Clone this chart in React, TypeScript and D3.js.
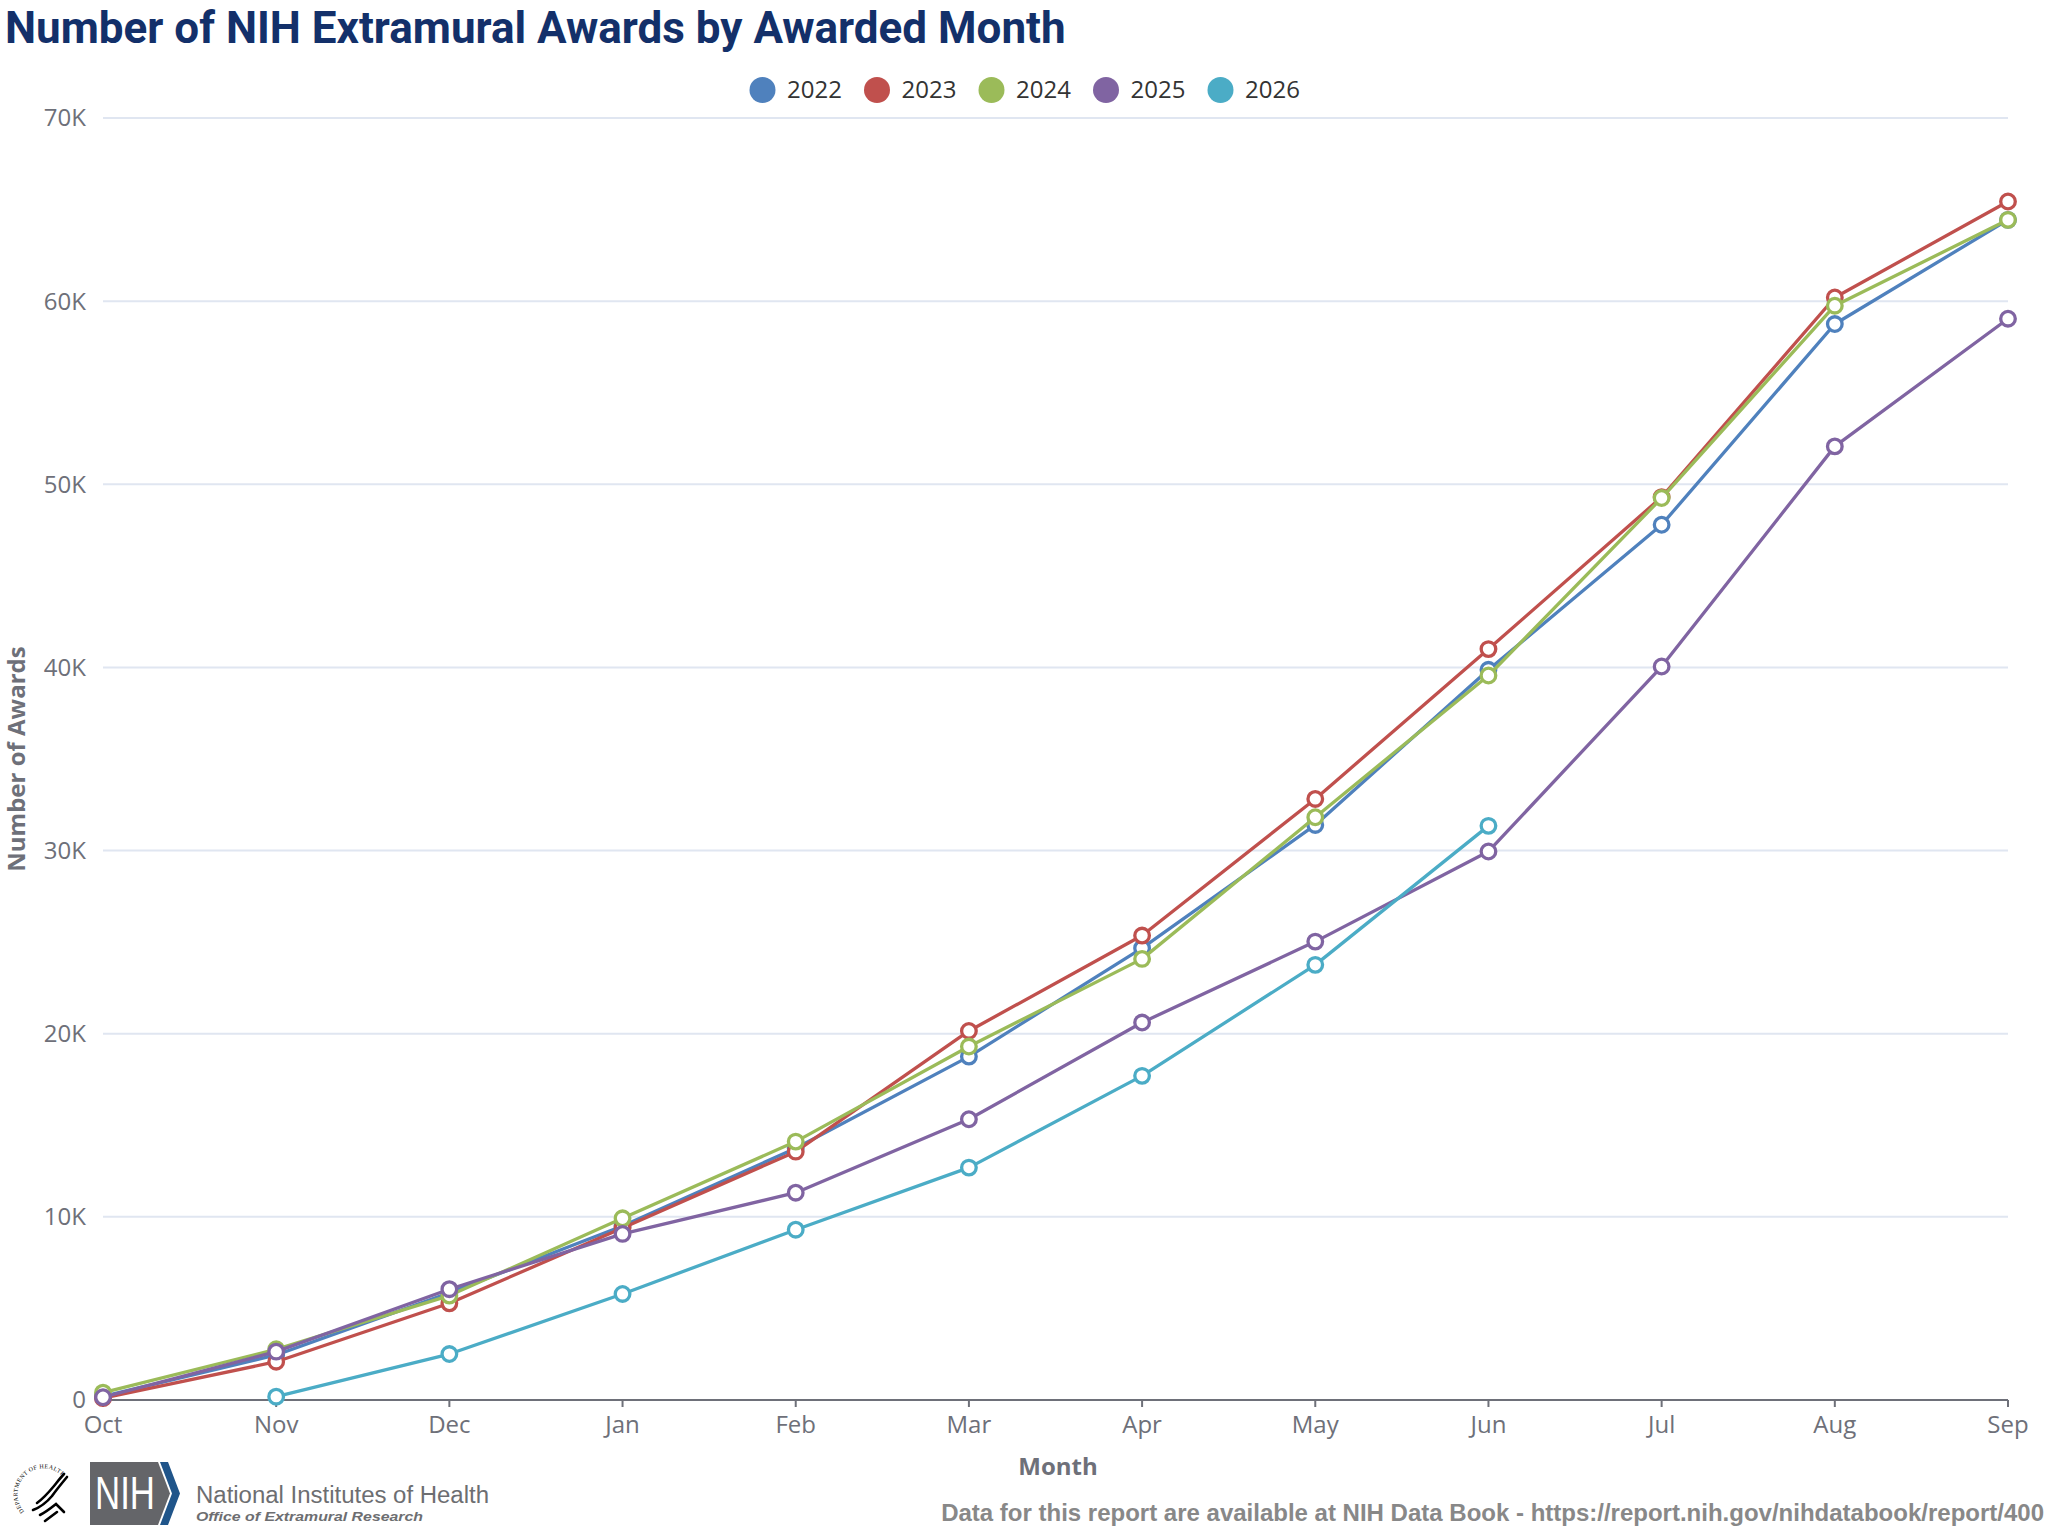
import React from 'react';
import * as d3 from 'd3';

// Awards counted cumulatively by awarded month, fiscal year Oct → Sep
const MONTHS = ['Oct', 'Nov', 'Dec', 'Jan', 'Feb', 'Mar', 'Apr', 'May', 'Jun', 'Jul', 'Aug', 'Sep'];
const YEARS = ['2022', '2023', '2024', '2025', '2026'];
const COLORS = ['#4F81BD', '#C0504D', '#9BBB59', '#8064A2', '#4BACC6'];

const AWARDS_2022 = [200, 2460, 5850, 9500, 13750, 18750, 24670, 31400, 39870, 47790, 58750, 64440];
const AWARDS_2023 = [100, 2090, 5280, 9390, 13560, 20150, 25360, 32820, 41000, 49300, 60200, 65440];
const AWARDS_2024 = [400, 2770, 5700, 9920, 14110, 19300, 24085, 31820, 39560, 49250, 59750, 64440];
const AWARDS_2025 = [150, 2640, 6050, 9070, 11320, 15330, 20610, 25030, 29950, 40050, 52070, 59040];
const AWARDS_2026 = [null, 180, 2510, 5790, 9300, 12690, 17700, 23760, 31350, null, null, null];

const Y_TICKS = [0, 10000, 20000, 30000, 40000, 50000, 60000, 70000];

const SERIES = [AWARDS_2022, AWARDS_2023, AWARDS_2024, AWARDS_2025, AWARDS_2026];

const width = 2048;
const height = 1536;
const plot = { left: 103, right: 2008, top: 118, bottom: 1400 };

const labelFont = '"Open Sans", "DejaVu Sans", sans-serif';
const axisGray = '#6E7079';

const fmtTick = (d: number) => (d === 0 ? '0' : `${d / 1000}K`);

export default function App() {
  const xScale = d3.scalePoint<string>().domain(MONTHS).range([plot.left, plot.right]).padding(0);
  const yScale = d3.scaleLinear().domain([0, 70000]).range([plot.bottom, plot.top]);

  const line = d3
    .line<number | null>()
    .defined((d) => d != null)
    .x((_, i) => xScale(MONTHS[i]) as number)
    .y((d) => yScale(d as number));

  // legend row layout
  const legendStart = 762.5;
  const legendStep = 114.5;
  const legendY = 90;

  // seal geometry
  const sealCx = 45;
  const sealCy = 1496;
  const sealR = 26;

  const yMid = (plot.top + plot.bottom) / 2;

  return (
    <svg
      width={width}
      height={height}
      viewBox={`0 0 ${width} ${height}`}
      style={{ position: 'absolute', left: 0, top: 0, background: '#fff' }}
    >
      {/* title */}
      <text
        x={5}
        y={43}
        fontFamily='Roboto, "Liberation Sans", sans-serif'
        fontWeight={700}
        fontSize={44}
        fill="#13306a"
      >
        Number of NIH Extramural Awards by Awarded Month
      </text>

      {/* legend */}
      <g fontFamily={labelFont} fontSize={24} fill="#333">
        {YEARS.map((yr, i) => (
          <g key={yr} transform={`translate(${legendStart + i * legendStep},${legendY})`}>
            <circle r={13} fill={COLORS[i]} />
            <text x={24.5} dy="0.35em">
              {yr}
            </text>
          </g>
        ))}
      </g>

      {/* grid lines */}
      <g>
        {Y_TICKS.filter((t) => t > 0).map((t) => (
          <line
            key={`g-${t}`}
            x1={plot.left}
            x2={plot.right}
            y1={yScale(t)}
            y2={yScale(t)}
            stroke="#E0E6F1"
            strokeWidth={2}
          />
        ))}
      </g>

      {/* y tick labels */}
      <g fontFamily={labelFont} fontSize={24} fill={axisGray}>
        {Y_TICKS.map((t) => (
          <text key={`yl-${t}`} x={86} y={yScale(t)} dy="0.35em" textAnchor="end">
            {fmtTick(t)}
          </text>
        ))}
      </g>

      {/* x axis */}
      <line x1={plot.left} x2={plot.right} y1={plot.bottom} y2={plot.bottom} stroke={axisGray} strokeWidth={2} />
      <g fontFamily={labelFont} fontSize={24} fill={axisGray}>
        {MONTHS.map((m) => (
          <g key={m}>
            <line
              x1={xScale(m)}
              x2={xScale(m)}
              y1={plot.bottom}
              y2={plot.bottom + 7}
              stroke={axisGray}
              strokeWidth={2}
            />
            <text x={xScale(m)} y={1433} textAnchor="middle">
              {m}
            </text>
          </g>
        ))}
      </g>

      {/* axis names */}
      <text
        x={1058}
        y={1475}
        textAnchor="middle"
        fontFamily={labelFont}
        fontWeight={700}
        fontSize={24}
        fill={axisGray}
      >
        Month
      </text>
      <text
        x={25}
        y={yMid}
        transform={`rotate(-90, 25, ${yMid})`}
        textAnchor="middle"
        fontFamily={labelFont}
        fontWeight={700}
        fontSize={24}
        fill={axisGray}
      >
        Number of Awards
      </text>

      {/* series */}
      {SERIES.map((values, si) => (
        <g key={YEARS[si]}>
          <path d={line(values) || ''} fill="none" stroke={COLORS[si]} strokeWidth={3.3} strokeLinejoin="round" />
          {values.map((v, i) =>
            v == null ? null : (
              <circle
                key={i}
                cx={xScale(MONTHS[i])}
                cy={yScale(v)}
                r={7.3}
                fill="#fff"
                stroke={COLORS[si]}
                strokeWidth={3.3}
              />
            )
          )}
        </g>
      ))}

      {/* HHS seal */}
      <g>
        <defs>
          <path
            id="sealArc"
            d={`M ${sealCx - sealR * 0.8},${sealCy + sealR * 0.6} A ${sealR},${sealR} 0 1,1 ${sealCx + sealR * 0.75},${sealCy - sealR * 0.66}`}
          />
        </defs>
        <text fontFamily='"Liberation Serif", serif' fontSize={6} fill="#000" letterSpacing={0.4}>
          <textPath href="#sealArc">DEPARTMENT OF HEALTH &amp; HUMAN SERVICES · USA</textPath>
        </text>
        <g fill="none" stroke="#000" strokeWidth={2.6} strokeLinecap="round">
          <path d="M 33,1510 C 41,1507 47,1502 52,1496 C 57,1489 62,1483 67,1477" />
          <path d="M 37,1503 C 44,1498 49,1492 54,1486 C 58,1481 61,1477 64,1474" />
          <path d="M 40,1515 C 46,1512 51,1508 56,1504 L 64,1512" />
          <path d="M 45,1521 C 49,1518 53,1515 57,1512" />
        </g>
      </g>

      {/* NIH logo block */}
      <g>
        <path d="M 90,1462 L 158,1462 L 170,1493.5 L 158,1525 L 90,1525 Z" fill="#646569" />
        <path d="M 160,1462 L 168,1462 L 180,1493.5 L 168,1525 L 160,1525 L 172,1493.5 Z" fill="#20558A" />
        <text
          x={95}
          y={1509}
          fontFamily='"Liberation Sans", Arial, sans-serif'
          fontSize={46}
          fill="#fff"
          textLength={60}
          lengthAdjust="spacingAndGlyphs"
        >
          NIH
        </text>
        <text
          x={196}
          y={1503}
          fontFamily='"Liberation Sans", Arial, sans-serif'
          fontSize={23}
          fill="#6d6e71"
          textLength={293}
          lengthAdjust="spacingAndGlyphs"
        >
          National Institutes of Health
        </text>
        <text
          x={196}
          y={1520.5}
          fontFamily='"Liberation Sans", Arial, sans-serif'
          fontSize={13}
          fontWeight={700}
          fontStyle="italic"
          fill="#6d6e71"
          textLength={227}
          lengthAdjust="spacingAndGlyphs"
        >
          Office of Extramural Research
        </text>
      </g>

      {/* footer */}
      <text
        x={2044}
        y={1521}
        textAnchor="end"
        fontFamily='"Liberation Sans", Arial, sans-serif'
        fontWeight={700}
        fontSize={24}
        fill="#888"
      >
        Data for this report are available at NIH Data Book - https://report.nih.gov/nihdatabook/report/400
      </text>
    </svg>
  );
}
